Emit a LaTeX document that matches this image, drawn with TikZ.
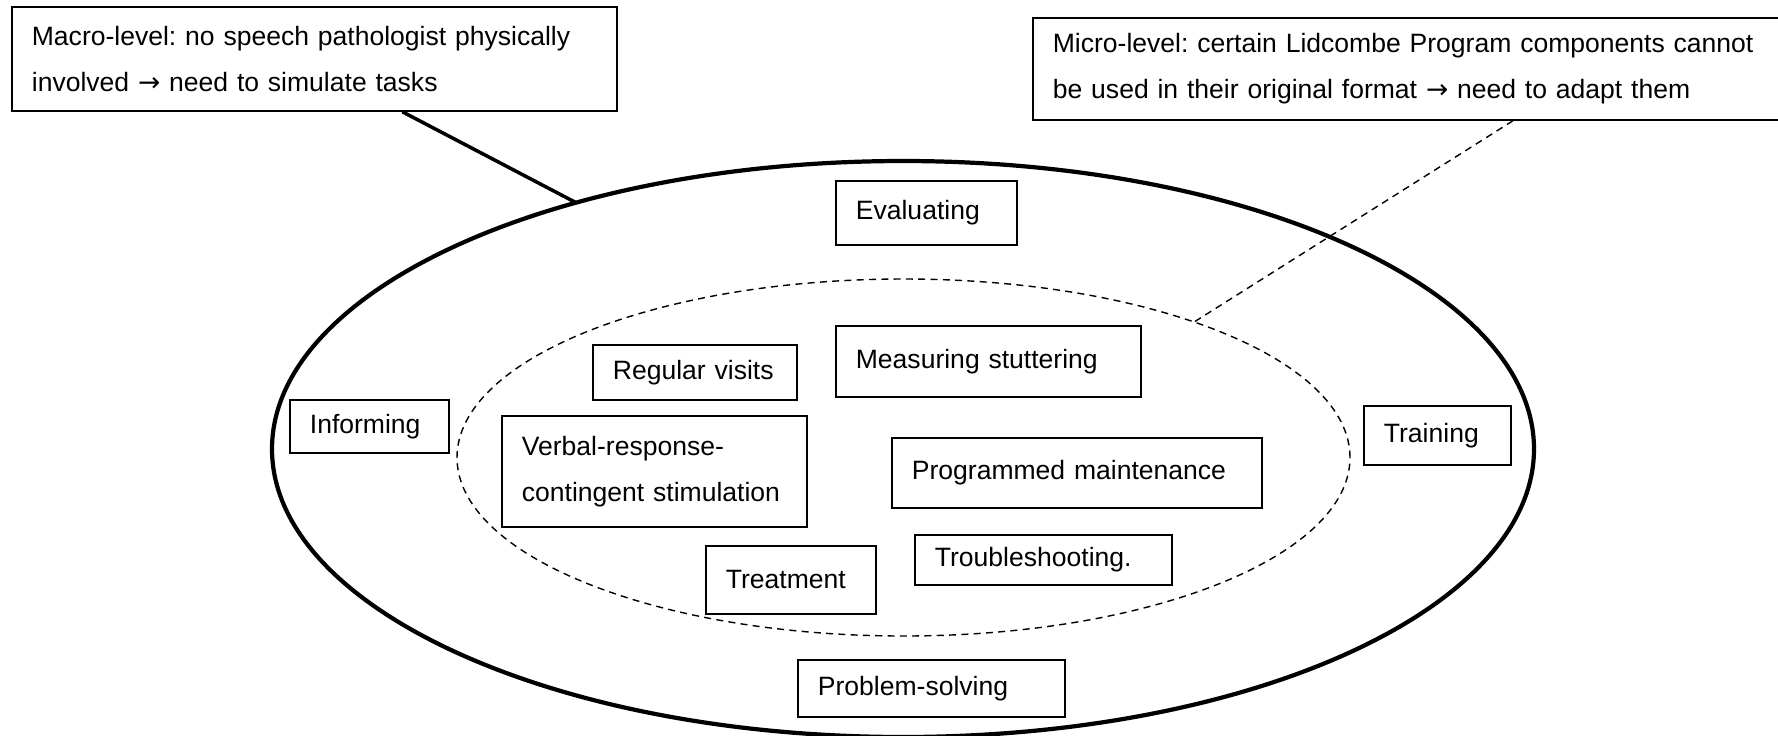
\documentclass[tikz,border=0pt]{standalone}
\usepackage{fontspec}
\setmainfont{Liberation Sans}
\newfontfamily\arrowfont{DejaVu Sans}
\newcommand{\toarrow}{{\arrowfont →}}
\usetikzlibrary{shapes.geometric,calc}

\begin{document}
\begin{tikzpicture}[every node/.style={draw, line width=0.5pt, anchor=north west, inner xsep=0.2cm, inner ysep=0pt, align=left, font=\fontsize{7.55}{13.2}\selectfont\frenchspacing},
  ring/.style={ellipse, anchor=center, inner sep=0pt, outer sep=0pt}]
  \useasboundingbox (0,0) rectangle (17.78,-7.35);
  \node[ring, line width=1.2pt, minimum width=12.62cm, minimum height=5.76cm] (outer) at (9.03,-4.49) {};
  \node[ring, line width=0.4pt, dash pattern=on 2pt off 1.5pt, minimum width=8.93cm, minimum height=3.57cm] (inner) at (9.035,-4.575) {};
  \node[text width=5.65cm, minimum height=1.04cm] (macro) at (0.11,-0.06) {Macro-level: no speech pathologist physically\\involved \toarrow{} need to simulate tasks};
  \node[text width=7.18cm, minimum height=1.02cm] (micro) at (10.32,-0.17) {Micro-level: certain Lidcombe Program components cannot\\be used in their original format \toarrow{} need to adapt them};
  \node[text width=1.41cm, minimum height=0.64cm] (eval) at (8.35,-1.80) {Evaluating};
  \node[text width=2.65cm, minimum height=0.71cm] (measure) at (8.35,-3.25) {Measuring stuttering};
  \node[text width=1.64cm, minimum height=0.55cm] (visits) at (5.92,-3.44) {Regular visits};
  \node[text width=1.19cm, minimum height=0.53cm] (inform) at (2.89,-3.99) {Informing};
  \node[text width=2.65cm, minimum height=1.11cm] (verbal) at (5.01,-4.15) {Verbal-response-\\contingent stimulation};
  \node[text width=3.30cm, minimum height=0.70cm] (maint) at (8.91,-4.37) {Programmed maintenance};
  \node[text width=1.07cm, minimum height=0.59cm] (train) at (13.63,-4.05) {Training};
  \node[text width=1.30cm, minimum height=0.68cm] (treat) at (7.05,-5.45) {Treatment};
  \node[text width=2.17cm, minimum height=0.50cm] (trouble) at (9.14,-5.34) {Troubleshooting.};
  \node[text width=2.27cm, minimum height=0.57cm] (solve) at (7.97,-6.59) {Problem-solving};
  \draw[line width=1pt] ($(macro.south west)!0.645!(macro.south east)$) -- (outer.143);
  \draw[line width=0.4pt, dash pattern=on 2pt off 1.5pt] ($(micro.south west)!0.633!(micro.south east)$) -- (inner.25);
\end{tikzpicture}
\end{document}
